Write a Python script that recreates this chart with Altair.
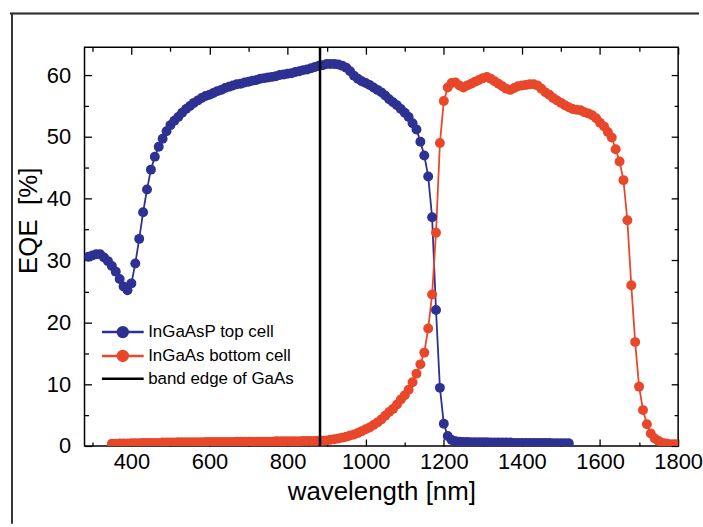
import altair as alt
import pandas as pd

# ---------------- data ----------------
blue_wl = [
    290, 300, 310, 320, 330, 340, 350, 360, 370, 380,
    390, 400, 410, 420, 430, 440, 450, 460, 470, 480,
    490, 500, 510, 520, 530, 540, 550, 560, 570, 580,
    590, 600, 610, 620, 630, 640, 650, 660, 670, 680,
    690, 700, 710, 720, 730, 740, 750, 760, 770, 780,
    790, 800, 810, 820, 830, 840, 850, 860, 870, 880,
    890, 900, 910, 920, 930, 940, 950, 960, 970, 980,
    990, 1000, 1010, 1020, 1030, 1040, 1050, 1060, 1070, 1080,
    1090, 1100, 1110, 1120, 1130, 1140, 1150, 1160, 1170, 1180,
    1190, 1200, 1210, 1220, 1230, 1240, 1250, 1260, 1270, 1280,
    1290, 1300, 1310, 1320, 1330, 1340, 1350, 1360, 1370, 1380,
    1390, 1400, 1410, 1420, 1430, 1440, 1450, 1460, 1470, 1480,
    1490, 1500, 1510, 1520,
]
blue_eqe = [
    30.6, 30.8, 31.0, 31.0, 30.5, 29.9, 29.1, 28.2, 27.0, 25.8,
    25.2, 26.3, 29.5, 33.5, 37.8, 41.5, 44.7, 46.8, 48.4, 49.7,
    50.9, 51.9, 52.6, 53.2, 53.9, 54.5, 55.0, 55.5, 55.9, 56.3,
    56.6, 56.8, 57.1, 57.4, 57.6, 57.9, 58.1, 58.3, 58.5, 58.6,
    58.8, 58.9, 59.1, 59.2, 59.4, 59.5, 59.6, 59.7, 59.8, 60.0,
    60.1, 60.2, 60.3, 60.5, 60.6, 60.8, 60.9, 61.1, 61.3, 61.5,
    61.6, 61.8, 61.8, 61.8, 61.7, 61.5, 61.2, 60.6, 59.9, 59.4,
    59.0, 58.7, 58.4, 58.0, 57.6, 57.2, 56.7, 56.1, 55.6, 55.1,
    54.5, 53.9, 53.2, 52.2, 51.2, 49.2, 47.0, 43.6, 37.0, 22.0,
    9.4, 3.6, 1.6, 0.95, 0.75, 0.7, 0.65, 0.65, 0.6, 0.6,
    0.6, 0.6, 0.6, 0.55, 0.55, 0.55, 0.55, 0.55, 0.55, 0.5,
    0.5, 0.5, 0.5, 0.5, 0.5, 0.5, 0.5, 0.5, 0.5, 0.45,
    0.45, 0.45, 0.45, 0.45,
]

red_wl = [
    350, 360, 370, 380, 390, 400, 410, 420, 430, 440,
    450, 460, 470, 480, 490, 500, 510, 520, 530, 540,
    550, 560, 570, 580, 590, 600, 610, 620, 630, 640,
    650, 660, 670, 680, 690, 700, 710, 720, 730, 740,
    750, 760, 770, 780, 790, 800, 810, 820, 830, 840,
    850, 860, 870, 880, 890, 900, 910, 920, 930, 940,
    950, 960, 970, 980, 990, 1000, 1010, 1020, 1030, 1040,
    1050, 1060, 1070, 1080, 1090, 1100, 1110, 1120, 1130, 1140,
    1150, 1160, 1170, 1180, 1190, 1200, 1210, 1220, 1230, 1240,
    1250, 1260, 1270, 1280, 1290, 1300, 1310, 1320, 1330, 1340,
    1350, 1360, 1370, 1380, 1390, 1400, 1410, 1420, 1430, 1440,
    1450, 1460, 1470, 1480, 1490, 1500, 1510, 1520, 1530, 1540,
    1550, 1560, 1570, 1580, 1590, 1600, 1610, 1620, 1630, 1640,
    1650, 1660, 1670, 1680, 1690, 1700, 1710, 1720, 1730, 1740,
    1750, 1760, 1770, 1780, 1790, 1800,
]
red_eqe = [
    0.35, 0.35, 0.4, 0.4, 0.4, 0.45, 0.45, 0.45, 0.5, 0.5,
    0.5, 0.5, 0.5, 0.55, 0.55, 0.55, 0.55, 0.6, 0.6, 0.6,
    0.6, 0.6, 0.6, 0.6, 0.65, 0.65, 0.65, 0.65, 0.65, 0.65,
    0.65, 0.65, 0.7, 0.7, 0.7, 0.7, 0.7, 0.7, 0.7, 0.7,
    0.7, 0.7, 0.75, 0.75, 0.75, 0.75, 0.75, 0.75, 0.75, 0.8,
    0.8, 0.8, 0.8, 0.85, 0.85, 0.9, 1.0, 1.1, 1.2, 1.35,
    1.5, 1.7, 1.85, 2.1, 2.4, 2.7, 3.0, 3.4, 3.8, 4.3,
    4.9, 5.5, 6.0, 6.7, 7.5, 8.2, 9.1, 10.3, 11.7, 13.2,
    15.1, 19.0, 24.5, 34.5, 49.0, 55.8, 58.0, 58.7, 58.8, 58.3,
    58.0, 58.3, 58.6, 58.9, 59.2, 59.5, 59.7, 59.4, 59.0, 58.6,
    58.2, 57.8, 57.6, 57.9, 58.2, 58.3, 58.4, 58.5, 58.5, 58.3,
    57.8, 57.2, 56.8, 56.3, 55.9, 55.5, 55.1, 54.8, 54.5, 54.4,
    54.3, 54.0, 53.8, 53.5, 53.0, 52.3, 51.7, 50.8, 49.9, 48.0,
    46.0, 43.0, 36.5, 26.0, 16.8, 9.6, 5.8, 3.5, 2.0, 1.2,
    0.8, 0.5, 0.4, 0.3, 0.3, 0.3,
]

band_edge_nm = [883]

series_names = ["InGaAsP top cell", "InGaAs bottom cell", "band edge of GaAs"]
series_colors = ["#2c3192", "#e8472a", "#000000"]

x_ticks_major = [400, 600, 800, 1000, 1200, 1400, 1600, 1800]
x_ticks_all = [300, 400, 500, 600, 700, 800, 900, 1000, 1100, 1200,
               1300, 1400, 1500, 1600, 1700, 1800]
y_ticks_major = [0, 10, 20, 30, 40, 50, 60]
y_ticks_all = [0, 5, 10, 15, 20, 25, 30, 35, 40, 45, 50, 55, 60]

X_DOMAIN = [280, 1800]
Y_DOMAIN = [0, 64.5]

# ---------------- layout ----------------
W, H = 597, 401
FONT = "Liberation Sans"

df = pd.concat([
    pd.DataFrame({"series": series_names[0], "wavelength": blue_wl, "eqe": blue_eqe}),
    pd.DataFrame({"series": series_names[1], "wavelength": red_wl, "eqe": red_eqe}),
], ignore_index=True)
edge_df = pd.DataFrame({"series": [series_names[2]], "wavelength": band_edge_nm})
legend_df = pd.DataFrame({"series": series_names})

xs = alt.Scale(domain=X_DOMAIN, nice=False, zero=False)
ys = alt.Scale(domain=Y_DOMAIN, nice=False, zero=False)
color_scale = alt.Scale(domain=series_names, range=series_colors)


def tick_axis(orient, offset, values, major_test):
    return alt.Axis(
        orient=orient, offset=offset, values=values,
        labels=False, domain=False, grid=False, title=None,
        ticks=True, tickColor="black", tickWidth=1.3,
        tickSize={"condition": {"test": major_test, "value": 7}, "value": 4},
    )


x_label_axis = alt.Axis(
    orient="bottom", values=x_ticks_major, ticks=False, domain=False, grid=False,
    format="d", labelFlush=False,
    labelPadding=6, labelFontSize=22, labelColor="black", labelFont=FONT,
    title="wavelength [nm]", titleFontSize=26, titleFont=FONT,
    titleFontWeight="normal", titleColor="black", titlePadding=6,
)
y_label_axis = alt.Axis(
    orient="left", values=y_ticks_major, ticks=False, domain=False, grid=False,
    format="d", labelFlush=False,
    labelPadding=14, labelFontSize=22, labelColor="black", labelFont=FONT,
    title="EQE\u00a0 [%]", titleFontSize=26, titleFont=FONT,
    titleFontWeight="normal", titleColor="black", titlePadding=5,
    titleY=174,
)

# legend symbols: a line with a dot, and a plain line (unit = 5 px)
DOT_PATH = "M-4.2,0H4.2M-1,0A1,1,0,1,0,1,0A1,1,0,1,0,-1,0Z"
LINE_PATH = "M-4.2,0H4.2"

legend_def = alt.Legend(
    title=None, orient="none", legendX=30, legendY=278,
    symbolSize=100, symbolStrokeWidth=2.5, symbolOpacity=1,
    labelFont=FONT, labelFontSize=17, labelColor="black",
    labelOffset=17, rowPadding=3, padding=0, labelLimit=400,
)

# invisible layer that only carries the legend (first, so its legend wins)
legend_layer = alt.Chart(legend_df).mark_point(filled=True, opacity=0).encode(
    color=alt.Color("series:N", scale=color_scale, legend=legend_def),
    stroke=alt.Stroke("series:N", scale=alt.Scale(domain=series_names, range=series_colors),
                      legend=legend_def),
    shape=alt.Shape("series:N",
                    scale=alt.Scale(domain=series_names,
                                    range=[DOT_PATH, DOT_PATH, LINE_PATH]),
                    legend=legend_def),
)

lines = alt.Chart(df).mark_line(strokeWidth=1.8, clip=True).encode(
    x=alt.X("wavelength:Q", scale=xs, axis=x_label_axis),
    y=alt.Y("eqe:Q", scale=ys, axis=y_label_axis),
    color=alt.Color("series:N", scale=color_scale, legend=None),
)

points = alt.Chart(df).mark_circle(size=100, opacity=1, clip=True).encode(
    x=alt.X("wavelength:Q", scale=xs,
            axis=tick_axis("top", -H, x_ticks_all, "datum.value % 200 === 0")),
    y=alt.Y("eqe:Q", scale=ys,
            axis=tick_axis("right", -W, y_ticks_all, "datum.value % 10 === 0")),
    color=alt.Color("series:N", scale=color_scale, legend=None),
)

edge = alt.Chart(edge_df).mark_rule(strokeWidth=2.5).encode(
    x=alt.X("wavelength:Q", scale=xs,
            axis=tick_axis("bottom", -H, x_ticks_all, "datum.value % 200 === 0")),
    y=alt.Y(datum=Y_DOMAIN[0], scale=ys,
            axis=tick_axis("left", -W, y_ticks_all, "datum.value % 10 === 0")),
    y2=alt.datum(Y_DOMAIN[1]),
    color=alt.Color("series:N", scale=color_scale, legend=None),
)

# outer frame of the figure (decoration)
frame_top = alt.Chart(legend_df).mark_rule(color="#333333", strokeWidth=1.5).encode(
    x=alt.value(-75), x2=alt.value(618), y=alt.value(-34)
)
frame_left = alt.Chart(legend_df).mark_rule(color="#333333", strokeWidth=1.5).encode(
    x=alt.value(-73), y=alt.value(-34), y2=alt.value(479)
)

chart = alt.layer(
    legend_layer, lines, points, edge, frame_top, frame_left
).resolve_axis(
    x="independent", y="independent"
).properties(
    width=W, height=H,
    padding={"left": 9, "top": 11, "right": 0, "bottom": 0},
    background="white",
).configure_view(
    stroke="black", strokeWidth=1.5
)

chart.save("out.html", embed_options={"renderer": "svg", "actions": False})
